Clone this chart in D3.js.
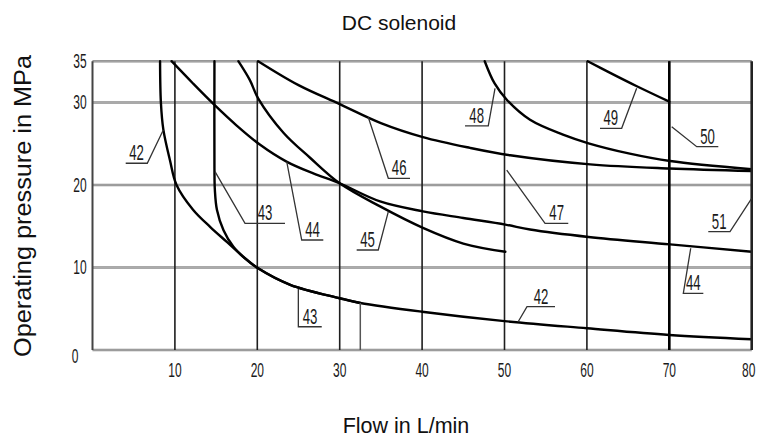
<!DOCTYPE html>
<html><head><meta charset="utf-8">
<script src="https://cdn.jsdelivr.net/npm/d3@7"></script>
<style>body{margin:0;background:#fff}svg{display:block}</style>
</head><body><svg id="c" width="760" height="441"></svg>
<script>
// ---- data ----
const xTicks = [10, 20, 30, 40, 50, 60, 70, 80];
const yTicks = [0, 10, 20, 30, 35];
const hGrid = [10, 20, 30];
const vGrid = [10, 20, 30, 40, 50, 60, 70];

const curve42 = [[8.2,35],[8.3,30],[8.6,26.7],[9.4,23],[10.2,20],[12.2,17],[14.3,14.9],[16.3,13.1],[18.3,11.3],[20.1,9.9],[24,7.9],[30,6.27],[32.5,5.7],[40,4.64],[50,3.5],[60,2.63],[70,1.82],[80,1.3]];
const curve43 = [[14.8,35],[14.8,22],[14.85,19.4],[15.1,17],[15.9,14.5],[17.1,12.5],[18.5,11.1],[20.1,9.9],[24,7.9],[30,6.27],[32.5,5.7]];
const curve43Limit = [[32.5,5.7],[32.5,0]];
const curve44 = [[9.6,35],[12.2,32.3],[14.8,29.7],[17.5,27.2],[20.3,24.9],[23.6,22.8],[26.8,21.4],[30,20.2],[34.9,18.0],[40.1,16.8],[45,16.0],[50.1,15.2],[53.1,14.6],[60.2,13.7],[70.1,12.8],[80,11.9]];
const curve45 = [[17.7,35],[19.1,32.7],[20.1,30.5],[23.2,26.3],[26.4,23.3],[30,20.2],[34.9,17.4],[40.1,14.8],[45,12.9],[50.1,11.9]];
const curve46 = [[20.1,35],[25,32.1],[30,29.8],[35,27.5],[40.1,25.8],[45.8,24.5],[50.7,23.6],[60.4,22.5],[70,22.0],[80,21.7]];
const curve48 = [[47.6,35],[48.8,32.3],[50.3,30.3],[53.1,27.9],[57.1,26.1],[60.2,25.05],[65.2,23.8],[70.1,22.9],[80,21.9]];
const curve49 = [[60.1,35],[63,33.5],[66,32.0],[70,30.1]];
const curve50 = [[70,35],[70,0]];
const curve51 = [[80,35],[80,0]];

// label leaders: point on curve -> elbow -> underline end (data units)
const labelNames = ["42","43","44","45","46","47","48","49","50","51","44","42","43"];
const labelLeaders = [
  [[8.59,26.66],[6.65,22.63],[4.03,22.63]],
  [[14.87,21.61],[18.51,15.35],[23.36,15.35]],
  [[23.57,22.82],[25.39,13.33],[28.01,13.33]],
  [[35.90,16.76],[34.68,12.12],[32.06,12.12]],
  [[33.47,28.2],[35.90,20.81],[38.53,20.81]],
  [[50.27,21.81],[54.92,15.35],[57.74,15.35]],
  [[48.85,31.72],[48.03,27.15],[45.21,27.15]],
  [[66.04,31.72],[64.22,26.87],[61.59,26.87]],
  [[70.29,27.06],[73.33,24.64],[75.95,24.64]],
  [[80.0,18.38],[77.37,14.34],[74.73,14.34]],
  [[72.6,12.33],[71.7,6.87],[74.13,6.87]],
  [[51.64,3.39],[52.73,5.25],[56.13,5.25]],
  [[24.98,7.39],[24.98,2.82],[27.82,2.82]]
];

const title = "DC solenoid";
const xTitle = "Flow in L/min";
const yTitle = "Operating pressure in MPa";

// ---- drawing ----
const svg = d3.select("#c");
const x = d3.scaleLinear().domain([0, 80]).range([92.5, 751.7]);
const y = d3.scaleLinear().domain([0, 35]).range([350, 61.2]);
const numFont = "'Liberation Sans','Arimo',Arial,sans-serif";
const sansFont = "'Liberation Sans',Arimo,Arial,Helvetica,sans-serif";

function narrowText(g, tx, ty, str, size, anchor) {
  g.append("text")
    .attr("transform", `translate(${tx},${ty}) scale(0.6,1)`)
    .attr("text-anchor", anchor || "middle")
    .attr("font-family", numFont)
    .attr("font-size", size)
    .attr("fill", "#1a1a1a")
    .text(str);
}

const grid = svg.append("g");
grid.selectAll(".hg").data(hGrid.concat([0, 35])).join("line")
  .attr("x1", x(0)).attr("x2", x(80))
  .attr("y1", d => y(d)).attr("y2", d => y(d))
  .attr("stroke", "#8c8c8c").attr("stroke-width", 2.6);
grid.selectAll(".hg2").data(hGrid.concat([0, 35])).join("line")
  .attr("x1", x(0)).attr("x2", x(80))
  .attr("y1", d => y(d)).attr("y2", d => y(d))
  .attr("stroke", "#b5b5b5").attr("stroke-width", 0.8);
grid.selectAll(".vg").data(vGrid).join("line")
  .attr("x1", d => x(d)).attr("x2", d => x(d))
  .attr("y1", y(35)).attr("y2", y(0))
  .attr("stroke", "#1e1e1e").attr("stroke-width", 1.6);
grid.append("line").attr("x1", x(0)).attr("x2", x(0)).attr("y1", y(35)).attr("y2", y(0))
  .attr("stroke", "#444").attr("stroke-width", 2);

const line = d3.line().x(d => x(d[0])).y(d => y(d[1])).curve(d3.curveCatmullRom.alpha(0.5));
const straight = d3.line().x(d => x(d[0])).y(d => y(d[1]));

const curves = [curve42, curve43, curve44, curve45, curve46, curve48, curve49];
svg.append("g").selectAll("path").data(curves).join("path")
  .attr("d", line).attr("fill", "none")
  .attr("stroke", "#000").attr("stroke-width", 2.4)
  .attr("stroke-linejoin", "round").attr("stroke-linecap", "round");

svg.append("path").attr("d", straight(curve50)).attr("fill", "none").attr("stroke", "#000").attr("stroke-width", 2.6);
svg.append("path").attr("d", straight(curve51)).attr("fill", "none").attr("stroke", "#222").attr("stroke-width", 2.6);
svg.append("path").attr("d", straight(curve43Limit)).attr("fill", "none").attr("stroke", "#555").attr("stroke-width", 1.5);

const lab = svg.append("g");
labelLeaders.forEach((pts, i) => {
  lab.append("path").attr("d", straight(pts)).attr("fill", "none")
    .attr("stroke", "#333").attr("stroke-width", 1.3);
  const a = pts[1], b = pts[2];
  const cx = (x(a[0]) + x(b[0])) / 2;
  const cy = y(a[1]) - 3;
  narrowText(lab, cx, cy, labelNames[i], 22);
});

const ax = svg.append("g");
yTicks.forEach(t => {
  const ty = t === 0 ? y(t) + 13 : y(t) + 7;
  narrowText(ax, t === 0 ? 75 : 80, ty, String(t), 20);
});
xTicks.forEach(t => {
  narrowText(ax, t === 80 ? x(t) - 3 : x(t), 377, String(t), 20);
});

svg.append("text").attr("x", 399).attr("y", 30).attr("text-anchor", "middle")
  .attr("font-family", sansFont).attr("font-size", 21).attr("fill", "#111").text(title);
svg.append("text").attr("x", 406).attr("y", 433).attr("text-anchor", "middle")
  .attr("font-family", sansFont).attr("font-size", 21.5).attr("fill", "#111").text(xTitle);
svg.append("text").attr("transform", "translate(31,206) rotate(-90)").attr("text-anchor", "middle")
  .attr("font-family", sansFont).attr("font-size", 23)
  .attr("textLength", 302).attr("lengthAdjust", "spacingAndGlyphs")
  .attr("fill", "#111").text(yTitle);
</script>
</body></html>
